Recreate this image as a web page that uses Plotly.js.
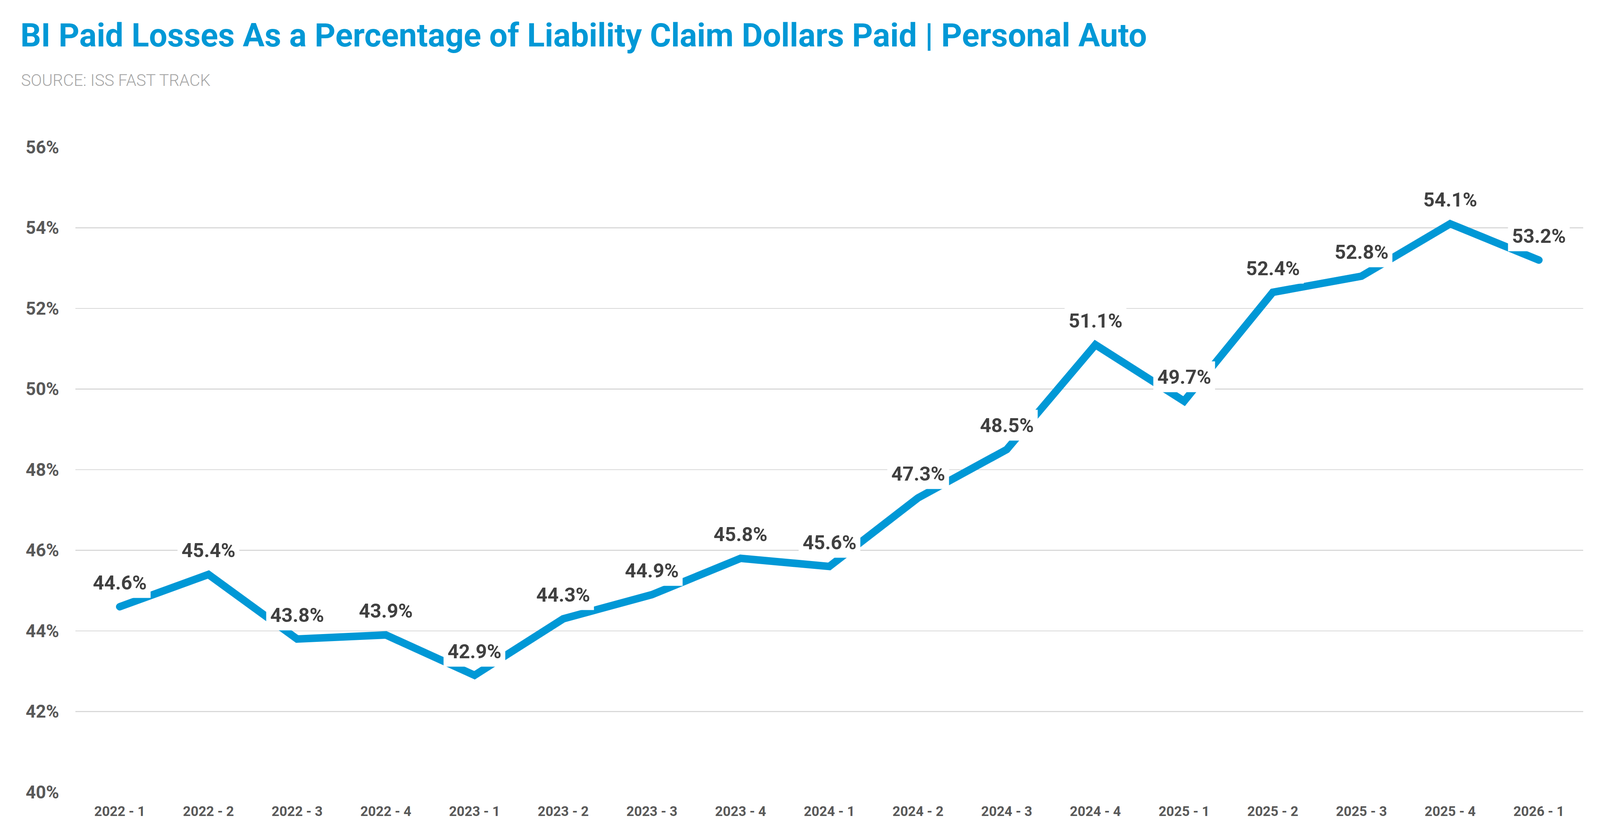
<!DOCTYPE html>
<html>
<head>
<meta charset="utf-8">
<script src="https://cdn.plot.ly/plotly-3.0.1.min.js"></script>
<style>
  html, body { margin: 0; padding: 0; background: #ffffff; overflow: hidden; }
  #chart .scatterlayer path.js-line { stroke-linecap: round; }
</style>
</head>
<body>
<div id="chart"></div>
<script>
// quarters on the x axis
const quarters = [
  "2022 - 1", "2022 - 2", "2022 - 3", "2022 - 4",
  "2023 - 1", "2023 - 2", "2023 - 3", "2023 - 4",
  "2024 - 1", "2024 - 2", "2024 - 3", "2024 - 4",
  "2025 - 1", "2025 - 2", "2025 - 3", "2025 - 4",
  "2026 - 1"
];

// BI paid losses as % of liability claim dollars paid
const biShare = [
  44.6, 45.4, 43.8, 43.9,
  42.9, 44.3, 44.9, 45.8,
  45.6, 47.3, 48.5, 51.1,
  49.7, 52.4, 52.8, 54.1,
  53.2
];

const yTicks = [40, 42, 44, 46, 48, 50, 52, 54, 56];
const yTickText = yTicks.map(v => v + "%");

const blue = "#0098d6";
const font = "Roboto, Arial, sans-serif";

// layout is measured on a 4395 x 2131 picture; fit it to the real window
const W = window.innerWidth || 4395;
const H = window.innerHeight || 2131;
const sx = W / 4395;
const sy = H / 2131;
const sf = Math.sqrt(sx * sy);

const m = { l: 207, r: 46, t: 377, b: 102 };
const plotH = 2131 - m.t - m.b;
const plotW = 4395 - m.l - m.r;

const chart = document.getElementById("chart");
chart.style.width = W + "px";
chart.style.height = H + "px";

const trace = {
  x: quarters,
  y: biShare,
  type: "scatter",
  mode: "lines",
  line: { color: blue, width: 20 * sf },
  hoverinfo: "skip",
  showlegend: false
};

// value labels sit on white boxes that knock out the line
const annotations = quarters.map((q, i) => ({
  x: q,
  y: biShare[i],
  xref: "x",
  yref: "y",
  text: biShare[i].toFixed(1) + "%",
  showarrow: false,
  yshift: 62 * sy,
  bgcolor: "#ffffff",
  borderpad: 10 * sf,
  font: { family: font, size: 52 * sf, color: "#404040", weight: 700 }
}));

annotations.push({
  xref: "paper",
  yref: "paper",
  x: (56 - m.l) / plotW,
  y: (2131 - m.b - 205) / plotH,
  xanchor: "left",
  yanchor: "middle",
  text: "SOURCE: ISS FAST TRACK",
  showarrow: false,
  font: { family: font, size: 45 * sx, color: "#a6a6a6", weight: 300 }
});

const layout = {
  width: W,
  height: H,
  paper_bgcolor: "#ffffff",
  plot_bgcolor: "#ffffff",
  margin: { l: m.l * sx, r: m.r * sx, t: m.t * sy, b: m.b * sy },
  title: {
    text: "<b>BI Paid Losses As a Percentage of Liability Claim Dollars Paid | Personal Auto</b>",
    xref: "container",
    yref: "container",
    x: 56 / 4395,
    y: 1 - 90 / 2131,
    xanchor: "left",
    yanchor: "middle",
    font: { family: font, size: 89 * sx, color: blue }
  },
  xaxis: {
    type: "category",
    range: [-0.5, 16.5],
    showgrid: false,
    zeroline: false,
    showline: false,
    ticks: "outside",
    ticklen: 18 * sy,
    tickcolor: "rgba(0,0,0,0)",
    tickfont: { family: font, size: 36 * sf, color: "#595959", weight: 700 },
    fixedrange: true
  },
  yaxis: {
    range: [40, 56],
    tickvals: yTicks,
    ticktext: yTickText,
    showgrid: true,
    gridcolor: "#d9d9d9",
    gridwidth: 2.5 * sf,
    zeroline: false,
    showline: false,
    ticks: "outside",
    ticklen: 34 * sx,
    tickcolor: "rgba(0,0,0,0)",
    tickfont: { family: font, size: 47 * sf, color: "#595959", weight: 700 },
    fixedrange: true
  },
  annotations: annotations
};

Plotly.newPlot(chart, [trace], layout, { displayModeBar: false, staticPlot: true });
</script>
</body>
</html>
